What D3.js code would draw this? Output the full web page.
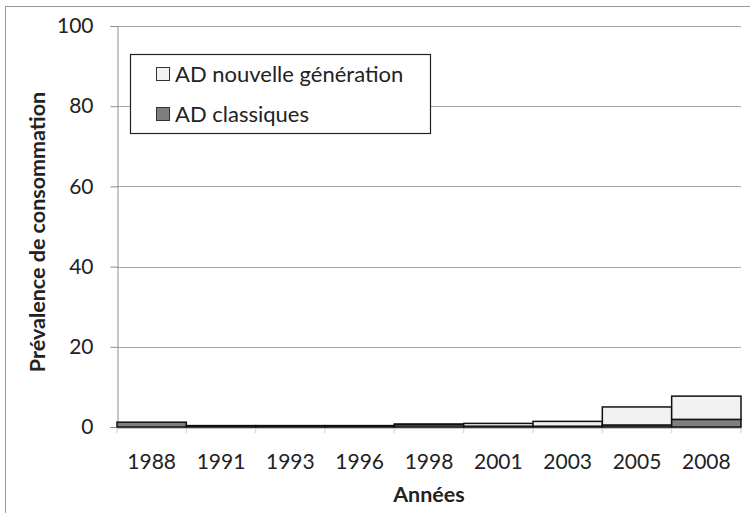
<!DOCTYPE html>
<html><head><meta charset="utf-8">
<script src="https://cdn.jsdelivr.net/npm/d3@7"></script>
<style>body{margin:0;background:#fff}svg{display:block}text{font-family:Lato,"Open Sans",sans-serif;fill:#222}</style>
</head><body><svg id="c" width="750" height="513"></svg>
<script>
const years = ["1988","1991","1993","1996","1998","2001","2003","2005","2008"];
const classiques = [1.2, 0.35, 0.35, 0.35, 0.6, 0.2, 0.2, 0.5, 1.9];
const nouvelle = [0.0, 0.0, 0.0, 0.0, 0.15, 0.7, 1.2, 4.5, 5.8];
const yTicks = [0, 20, 40, 60, 80, 100];
const seriesNames = ["AD nouvelle génération", "AD classiques"];
const colors = {cl: "#7f7f7f", nv: "#f2f2f2"};

const svg = d3.select("#c");
const m = {l: 117, r: 741, t: 26, b: 427};
const x = d3.scaleBand().domain(years).range([m.l, m.r]).padding(0);
const y = d3.scaleLinear().domain([0, 100]).range([m.b, m.t]);

// outer border
svg.append("rect").attr("x", 5.5).attr("y", 6.5).attr("width", 760).attr("height", 520)
  .attr("fill", "none").attr("stroke", "#9a9a9a");

// gridlines
svg.append("g").selectAll("line").data(yTicks.filter(d => d > 0)).join("line")
  .attr("x1", m.l).attr("x2", m.r).attr("y1", d => Math.round(y(d)) + 0.5).attr("y2", d => Math.round(y(d)) + 0.5)
  .attr("stroke", "#a6a6a6").attr("stroke-width", 1.2);

// y axis
const ya = svg.append("g").attr("transform", `translate(${m.l + 0.5},0)`)
  .call(d3.axisLeft(y).tickValues(yTicks).tickSize(7).tickPadding(17));
ya.select(".domain").attr("stroke", "#8c8c8c");
ya.selectAll(".tick line").attr("stroke", "#8c8c8c");
ya.selectAll(".tick text").attr("font-size", 21).attr("font-family", "Lato,sans-serif").attr("fill", "#222");

// x axis
const xa = svg.append("g").attr("transform", `translate(0,${m.b + 0.5})`)
  .call(d3.axisBottom(x).tickSize(0).tickPadding(27));
xa.select(".domain").attr("stroke", "#8c8c8c");
xa.selectAll(".tick text").attr("font-size", 21).attr("font-family", "Lato,sans-serif").attr("fill", "#222");
svg.append("g").selectAll("line").data(d3.range(years.length + 1)).join("line")
  .attr("x1", i => m.l + i * x.bandwidth()).attr("x2", i => m.l + i * x.bandwidth())
  .attr("y1", m.b).attr("y2", m.b + 6).attr("stroke", "#cfcfcf");

// bars
const g = svg.append("g");
years.forEach((yr, i) => {
  const x0 = x(yr), w = x.bandwidth();
  const c = classiques[i], n = nouvelle[i];
  g.append("rect").attr("x", x0).attr("width", w)
    .attr("y", y(c)).attr("height", y(0) - y(c))
    .attr("fill", colors.cl).attr("stroke", "#111").attr("stroke-width", 1.5);
  if (n > 0) {
    g.append("rect").attr("x", x0).attr("width", w)
      .attr("y", y(c + n)).attr("height", y(c) - y(c + n))
      .attr("fill", colors.nv).attr("stroke", "#111").attr("stroke-width", 1.5);
  }
});

// axis titles
svg.append("text").attr("transform", `translate(45,232) rotate(-90)`)
  .attr("text-anchor", "middle").attr("font-size", 21.5).attr("font-weight", "bold")
  .text("Prévalence de consommation");
svg.append("text").attr("x", (m.l + m.r) / 2).attr("y", 502)
  .attr("text-anchor", "middle").attr("font-size", 21.5).attr("font-weight", "bold").text("Années");

// legend
const lg = svg.append("g");
lg.append("rect").attr("x", 130.5).attr("y", 54.5).attr("width", 300).attr("height", 79)
  .attr("fill", "#fff").attr("stroke", "#222").attr("stroke-width", 1.2);
const legItems = [{name: seriesNames[0], c: colors.nv}, {name: seriesNames[1], c: colors.cl}];
legItems.forEach((d, i) => {
  const cy = 74 + i * 40;
  lg.append("rect").attr("x", 156.5).attr("y", cy - 6.5).attr("width", 13).attr("height", 13)
    .attr("fill", d.c).attr("stroke", "#333");
  lg.append("text").attr("x", 175).attr("y", cy + 7.5).attr("font-size", 22).text(d.name);
});
</script></body></html>
